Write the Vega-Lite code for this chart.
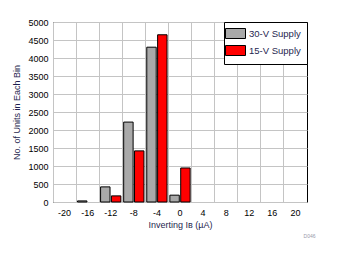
{
  "$schema": "https://vega.github.io/schema/vega-lite/v6.json",
  "width": 254,
  "height": 180,
  "autosize": {"type": "none"},
  "padding": {"left": 53, "top": 22, "right": 33, "bottom": 52},
  "background": "white",
  "config": {
    "font": "Liberation Sans",
    "view": {"stroke": "black", "strokeWidth": 1},
    "axis": {"labelFont": "Liberation Sans", "titleFont": "Liberation Sans", "labelFontSize": 9, "titleFontSize": 9, "titleFontWeight": "normal", "labelColor": "black", "titleColor": "#1f1f4f", "gridColor": "#c4c4c4", "gridWidth": 1, "gridOpacity": 1, "ticks": false, "domain": false}
  },
  "title": {"text": "D046", "orient": "bottom", "anchor": "end", "fontSize": 5, "fontWeight": "normal", "color": "#9a9aaa", "offset": 5, "dx": 8},
  "data": {"values": [
    {"bin": "-20", "supply": "30-V Supply", "count": 0},
    {"bin": "-20", "supply": "15-V Supply", "count": 0},
    {"bin": "-16", "supply": "30-V Supply", "count": 30},
    {"bin": "-16", "supply": "15-V Supply", "count": 0},
    {"bin": "-12", "supply": "30-V Supply", "count": 420},
    {"bin": "-12", "supply": "15-V Supply", "count": 170},
    {"bin": "-8", "supply": "30-V Supply", "count": 2220},
    {"bin": "-8", "supply": "15-V Supply", "count": 1420},
    {"bin": "-4", "supply": "30-V Supply", "count": 4300},
    {"bin": "-4", "supply": "15-V Supply", "count": 4645},
    {"bin": "0", "supply": "30-V Supply", "count": 190},
    {"bin": "0", "supply": "15-V Supply", "count": 945},
    {"bin": "4", "supply": "30-V Supply", "count": 0},
    {"bin": "4", "supply": "15-V Supply", "count": 0},
    {"bin": "8", "supply": "30-V Supply", "count": 0},
    {"bin": "8", "supply": "15-V Supply", "count": 0},
    {"bin": "12", "supply": "30-V Supply", "count": 0},
    {"bin": "12", "supply": "15-V Supply", "count": 0},
    {"bin": "16", "supply": "30-V Supply", "count": 0},
    {"bin": "16", "supply": "15-V Supply", "count": 0},
    {"bin": "20", "supply": "30-V Supply", "count": 0},
    {"bin": "20", "supply": "15-V Supply", "count": 0}
  ]},
  "mark": {"type": "bar", "stroke": "black", "strokeWidth": 1},
  "encoding": {
    "x": {
      "field": "bin", "type": "ordinal",
      "sort": ["-20", "-16", "-12", "-8", "-4", "0", "4", "8", "12", "16", "20"],
      "scale": {"paddingInner": 0, "paddingOuter": 0},
      "axis": {"title": "Inverting Iʙ (µA)", "labelAngle": 0, "bandPosition": 0, "labelPadding": 6, "titlePadding": 3, "grid": true}
    },
    "xOffset": {
      "field": "supply", "type": "nominal",
      "sort": ["30-V Supply", "15-V Supply"],
      "scale": {"paddingInner": 0.13, "paddingOuter": 0.13}
    },
    "y": {
      "field": "count", "type": "quantitative",
      "scale": {"domain": [0, 5000], "nice": false},
      "axis": {"title": "No. of Units in Each Bin", "format": "d", "values": [0, 500, 1000, 1500, 2000, 2500, 3000, 3500, 4000, 4500, 5000], "labelPadding": 5, "titlePadding": 6, "grid": true}
    },
    "strokeOpacity": {
      "condition": {"test": "datum.count === 0", "value": 0},
      "value": 1
    },
    "fill": {
      "field": "supply", "type": "nominal",
      "sort": ["30-V Supply", "15-V Supply"],
      "scale": {"domain": ["30-V Supply", "15-V Supply"], "range": ["#a9a9a9", "#ff0000"]},
      "legend": {
        "title": null, "orient": "top-right", "offset": 0,
        "strokeColor": "black", "fillColor": "white", "padding": 6,
        "symbolType": "M-2,-1H2V1H-2Z", "symbolSize": 100,
        "symbolStrokeColor": "black", "symbolStrokeWidth": 1,
        "labelFont": "Liberation Sans", "labelFontSize": 9.5, "labelColor": "#1f1f4f",
        "rowPadding": 2, "labelOffset": 8
      }
    }
  }
}
